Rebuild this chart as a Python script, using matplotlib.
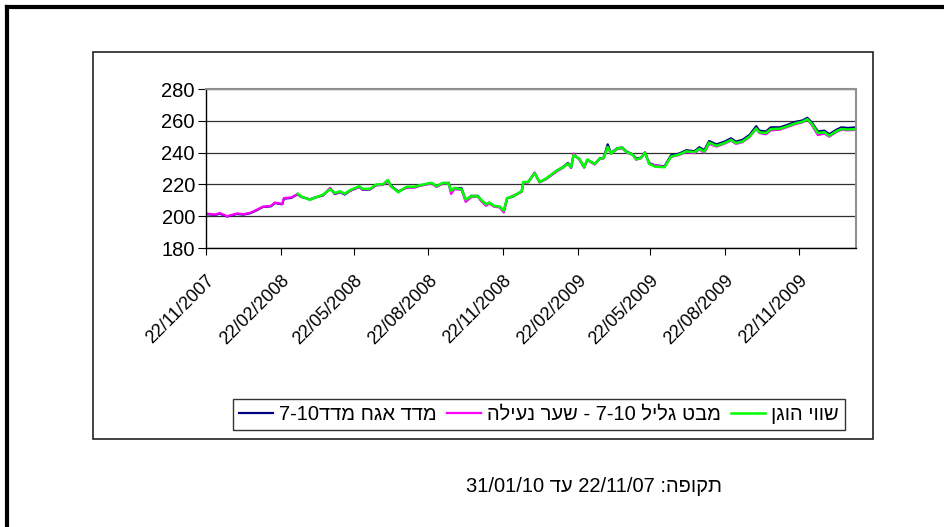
import numpy as np
import pandas as pd
import matplotlib
matplotlib.use("Agg")
import matplotlib.pyplot as plt
from matplotlib.lines import Line2D
from matplotlib.patches import Rectangle

plt.rcParams["font.family"] = ["Liberation Sans", "DejaVu Sans"]
plt.rcParams["font.size"] = 14.5

# data
dates = ["2007-11-22", "2007-12-03", "2007-12-09", "2007-12-18", "2007-12-30",
         "2008-01-07", "2008-01-15", "2008-01-23", "2008-01-31", "2008-02-10",
         "2008-02-15", "2008-02-24", "2008-02-26", "2008-03-06", "2008-03-14",
         "2008-03-18", "2008-03-29", "2008-04-06", "2008-04-14", "2008-04-23",
         "2008-04-29", "2008-05-05", "2008-05-11", "2008-05-17", "2008-05-29",
         "2008-06-02", "2008-06-11", "2008-06-19", "2008-06-27", "2008-07-03",
         "2008-07-07", "2008-07-16", "2008-07-26", "2008-08-05", "2008-08-11",
         "2008-08-26", "2008-09-01", "2008-09-09", "2008-09-16", "2008-09-19",
         "2008-09-23", "2008-10-02", "2008-10-07", "2008-10-14", "2008-10-22",
         "2008-10-26", "2008-11-01", "2008-11-05", "2008-11-11", "2008-11-18",
         "2008-11-23", "2008-11-27", "2008-12-04", "2008-12-15", "2008-12-17",
         "2008-12-23", "2008-12-31", "2009-01-06", "2009-01-14", "2009-01-27",
         "2009-02-04", "2009-02-10", "2009-02-14", "2009-02-17", "2009-02-24",
         "2009-03-02", "2009-03-06", "2009-03-15", "2009-03-21", "2009-03-26",
         "2009-03-31", "2009-04-04", "2009-04-12", "2009-04-18", "2009-04-23",
         "2009-05-01", "2009-05-05", "2009-05-11", "2009-05-16", "2009-05-21",
         "2009-05-28", "2009-06-09", "2009-06-17", "2009-06-27", "2009-07-06",
         "2009-07-16", "2009-07-22", "2009-07-28", "2009-08-03", "2009-08-12",
         "2009-08-22", "2009-08-30", "2009-09-05", "2009-09-13", "2009-09-22",
         "2009-09-30", "2009-10-04", "2009-10-12", "2009-10-18", "2009-10-29",
         "2009-11-06", "2009-11-18", "2009-11-26", "2009-12-02", "2009-12-08",
         "2009-12-15", "2009-12-23", "2009-12-29", "2010-01-07", "2010-01-13",
         "2010-01-21", "2010-01-31"]

fair = [np.nan, np.nan, np.nan, np.nan, np.nan,
        np.nan, np.nan, np.nan, np.nan, np.nan,
        np.nan, np.nan, np.nan, np.nan, 214.2,
        212.5, 210.3, 212.0, 213.5, 217.0,
        214.6, 215.7, 214.2, 216.3, 218.9,
        217.2, 217.2, 220.0, 220.0, 222.8,
        218.9, 215.0, 218.5, 218.5, 219.4,
        221.0, 218.9, 221.0, 220.6, 216.0,
        217.8, 216.8, 210.5, 212.5, 212.5,
        210.3, 207.5, 208.6, 206.5, 206.0,
        203.5, 211.4, 212.5, 215.7, 221.5,
        221.5, 227.0, 221.5, 223.7, 228.6,
        230.8, 233.0, 230.8, 238.5, 236.1,
        230.8, 235.7, 232.9, 236.1, 236.6,
        243.5, 239.4, 242.6, 243.0, 240.4,
        238.7, 235.7, 236.6, 240.0, 232.9,
        231.2, 230.8, 237.5, 238.8, 240.8,
        240.3, 242.5, 240.5, 246.3, 244.3,
        246.0, 248.0, 246.0, 247.0, 250.2,
        255.2, 252.8, 252.3, 254.8, 255.0,
        256.3, 258.5, 259.4, 261.0, 257.8,
        252.3, 252.8, 250.6, 253.5, 254.8,
        254.5, 254.8]

closing = [201.7, 201.0, 202.0, 200.0, 201.7,
           201.3, 202.0, 203.9, 206.0, 206.5,
           208.6, 207.7, 211.4, 211.8, 214.0,
           212.3, 210.5, 211.8, 213.2, 217.8,
           214.2, 215.3, 214.0, 216.0, 218.3,
           216.8, 217.0, 219.5, 219.6, 221.8,
           218.5, 215.4, 217.8, 218.0, 219.0,
           220.6, 218.4, 220.5, 220.8, 214.0,
           217.0, 216.5, 209.0, 212.0, 212.3,
           209.5, 206.5, 208.0, 206.0, 205.5,
           202.3, 211.0, 212.8, 215.3, 221.0,
           221.2, 227.5, 221.2, 223.3, 228.0,
           230.5, 233.0, 230.3, 239.4, 235.6,
           230.5, 235.3, 232.5, 235.8, 236.3,
           243.5, 239.2, 242.2, 242.6, 240.2,
           238.5, 235.5, 236.4, 240.3, 233.0,
           232.0, 231.0, 237.2, 238.5, 240.3,
           239.6, 242.0, 239.8, 245.5, 243.8,
           245.6, 247.5, 245.5, 246.5, 249.8,
           255.0, 252.3, 251.5, 254.0, 254.4,
           255.8, 258.0, 259.0, 260.8, 257.0,
           251.0, 252.0, 250.0, 253.0, 254.3,
           254.0, 254.3]

index = [201.3, 200.8, 201.6, 199.8, 201.4,
         201.0, 201.8, 203.6, 205.8, 206.2,
         208.3, 207.5, 211.0, 211.5, 213.8,
         212.2, 210.6, 212.0, 213.0, 217.3,
         213.9, 215.2, 213.6, 215.8, 218.5,
         216.6, 216.8, 219.6, 219.8, 222.3,
         219.2, 215.6, 218.0, 218.2, 219.2,
         220.8, 218.7, 220.8, 221.0, 215.5,
         217.5, 217.5, 210.0, 212.8, 212.8,
         210.0, 207.3, 208.5, 206.3, 205.8,
         203.0, 211.2, 212.3, 215.5, 221.3,
         221.5, 227.2, 221.5, 223.5, 228.5,
         231.0, 233.5, 230.8, 238.5, 236.0,
         230.8, 235.5, 232.8, 236.3, 236.8,
         245.2, 239.8, 242.8, 243.2, 240.8,
         238.8, 236.3, 236.8, 240.0, 233.5,
         232.0, 231.4, 238.3, 239.4, 241.5,
         240.9, 243.4, 241.5, 247.3, 245.2,
         246.9, 249.0, 246.9, 248.0, 251.2,
         256.6, 253.8, 253.3, 255.9, 255.9,
         257.2, 259.4, 260.2, 261.9, 258.7,
         253.3, 253.8, 251.6, 254.4, 255.9,
         255.5, 255.9]

# Hebrew labels written in visual (left-to-right) order
label_index = "7-10דדמ חגא דדמ"
label_closing = "הליענ רעש - 7-10 לילג טבמ"
label_fair = "ןגוה יווש"
footer = "31/01/10 דע 22/11/07 :הפוקת"

tick_dates = ["2007-11-22", "2008-02-22", "2008-05-22", "2008-08-22", "2008-11-22",
              "2009-02-22", "2009-05-22", "2009-08-22", "2009-11-22"]
tick_labels = ["22/11/2007", "22/02/2008", "22/05/2008", "22/08/2008", "22/11/2008",
               "22/02/2009", "22/05/2009", "22/08/2009", "22/11/2009"]
yticks = [180, 200, 220, 240, 260, 280]

d = pd.to_datetime(dates)

W, H = 944, 527
fig = plt.figure(figsize=(W / 100, H / 100), dpi=100)

# thick outer frame (only left and top are inside the picture)
fig.add_artist(Line2D([7 / W, 7 / W], [1 - 7 / H, 0], color="black", lw=3, transform=fig.transFigure))
fig.add_artist(Line2D([7 / W, 1], [1 - 7 / H, 1 - 7 / H], color="black", lw=3, transform=fig.transFigure))

# chart box
fig.add_artist(Rectangle((93 / W, 1 - 439 / H), (873 - 93) / W, (439 - 52) / H,
                         fill=False, edgecolor="#222222", lw=1.2, transform=fig.transFigure))

ax = fig.add_axes([206 / W, 1 - 248 / H, (856 - 206) / W, (248 - 89) / H])

ax.plot(d, index, color="#000080", lw=1.6, label=label_index)
ax.plot(d, closing, color="#FF00FF", lw=1.6, label=label_closing)
ax.plot(d, fair, color="#00FF00", lw=1.8, label=label_fair)

ax.set_xlim(pd.Timestamp("2007-11-22"), pd.Timestamp("2010-01-31"))
ax.set_ylim(180, 280)
ax.set_yticks(yticks)
ax.set_xticks(pd.to_datetime(tick_dates))
ax.set_xticklabels(tick_labels, rotation=45, ha="right", va="top", rotation_mode="anchor",
                   fontsize=13)
ax.tick_params(axis="x", direction="out", length=5, pad=12)
ax.tick_params(axis="y", direction="out", length=6, pad=2, labelsize=14.5)

ax.grid(axis="y", color="#303030", lw=0.9)
ax.set_axisbelow(True)
for s in ["left", "bottom"]:
    ax.spines[s].set_color("black")
    ax.spines[s].set_linewidth(1.0)
for s in ["top", "right"]:
    ax.spines[s].set_color("#909090")
    ax.spines[s].set_linewidth(1.5)

leg = fig.legend(loc="center", bbox_to_anchor=(539 / W, 1 - 414.5 / H), ncol=3,
                 frameon=True, fancybox=False, edgecolor="black", fontsize=14.5,
                 handlelength=1.7, handletextpad=0.3, columnspacing=0.5,
                 borderpad=0.3)
leg.get_frame().set_linewidth(1.0)

fig.text(594 / W, 1 - 486 / H, footer, ha="center", va="center", fontsize=14.5)

fig.savefig("out.png", dpi=100)
